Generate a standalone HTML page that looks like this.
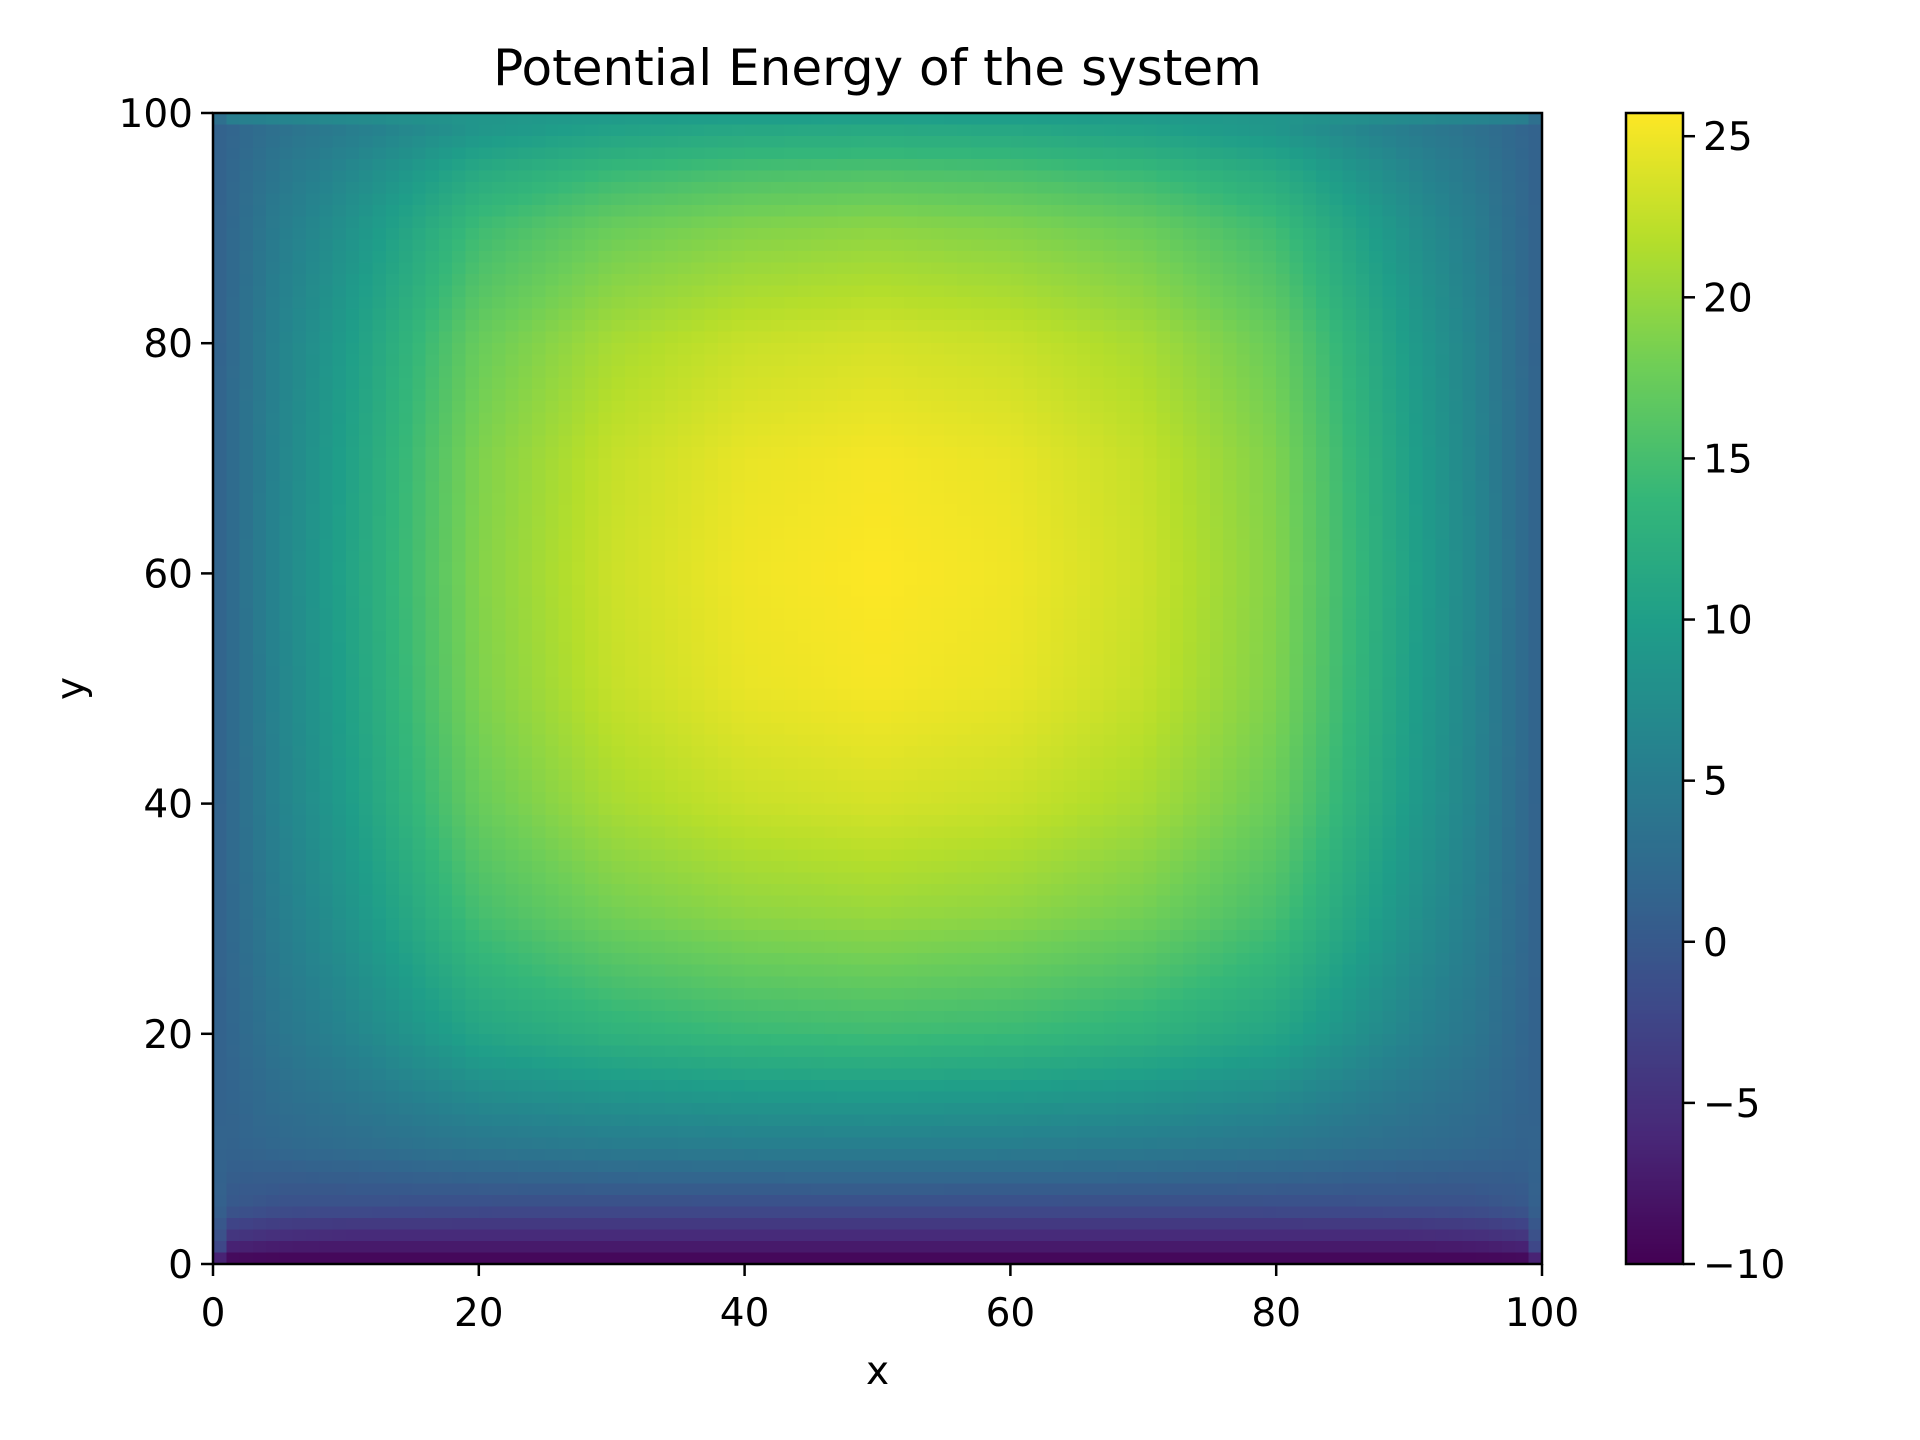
<!DOCTYPE html>
<html><head><meta charset="utf-8"><style>
html,body{margin:0;padding:0;background:#fff;width:1920px;height:1440px;overflow:hidden}
#wrap{position:relative;width:1920px;height:1440px}
canvas{position:absolute;image-rendering:pixelated}
svg{position:absolute;left:0;top:0}
text{font-family:"DejaVu Sans","Liberation Sans",sans-serif;fill:#000}
</style></head><body>
<div id="wrap">
<canvas id="hm" width="100" height="100" style="left:213px;top:113px;width:1329px;height:1151px"></canvas>
<canvas id="cb" width="1" height="256" style="left:1626px;top:113px;width:57px;height:1151px"></canvas>
<svg id="ax" width="1920" height="1440"></svg>
</div>
<script>
const xs=[0,1,5,10,20,30,40,50,60,70,80,90,95,99,100];
const ys=[100,99,95,90,80,70,60,50,40,30,20,10,5,2,1,0];
const r100=[1,9,9,9,9,9,9,9,9,9,9,9,9,9,1];
const r99=[1,1.4,3.2,4.8,8.3,9.9,10.7,11,10.7,9.9,8.3,4.8,3.2,1.4,1];
const r95=[1,1.6,4.2,6.5,11.6,13.9,15.1,15.5,15.1,13.9,11.6,6.5,4.2,1.6,1];
const r90=[1,1.7,5.1,8,14.5,17.5,18.9,19.5,18.9,17.5,14.5,8,5.1,1.7,1];
const r80=[1,1.9,6,9.6,17.4,21,22.8,23.5,22.8,21,17.4,9.6,6,1.9,1];
const r70=[1,2,6.3,10.2,18.7,22.6,24.6,25.3,24.6,22.6,18.7,10.2,6.3,2,1];
const r60=[1,2,6.5,10.5,19,23,25,25.7,25,23,19,10.5,6.5,2,1];
const r50=[1,2,6.3,10.2,18.7,22.6,24.6,25.3,24.6,22.6,18.7,10.2,6.3,2,1];
const r40=[1,1.9,6,9.6,17.4,21,22.8,23.5,22.8,21,17.4,9.6,6,1.9,1];
const r30=[1,1.8,5.2,8.2,14.9,17.9,19.4,20,19.4,17.9,14.9,8.2,5.2,1.8,1];
const r20=[1,1.5,4,6.1,10.9,13,14.1,14.5,14.1,13,10.9,6.1,4,1.5,1];
const r10=[1.5,1.2,1.9,2.5,3.9,4.6,4.9,5,4.9,4.6,3.9,2.5,1.9,1.2,1.5];
const r5=[2,0,-1,-1.2,-1.4,-1.5,-1.5,-1.5,-1.5,-1.5,-1.4,-1.2,-1,0,2];
const r2=[2,-5,-6,-6.5,-6.5,-6.5,-6.5,-6.5,-6.5,-6.5,-6.5,-6.5,-6,-5,2];
const r1=[2,-8,-8.5,-8.5,-8.5,-8.5,-8.5,-8.5,-8.5,-8.5,-8.5,-8.5,-8.5,-8,2];
const r0=[-10,-10,-10,-10,-10,-10,-10,-10,-10,-10,-10,-10,-10,-10,-10];
const rows=[r100,r99,r95,r90,r80,r70,r60,r50,r40,r30,r20,r10,r5,r2,r1,r0];
const axisTicks=[0,20,40,60,80,100];
const cbTicks=[-10,-5,0,5,10,15,20,25];
const vmin=-10,vmax=25.72;
const vir=['#440154','#482878','#3e4989','#31688e','#26828e','#1f9e89','#35b779','#6ece58','#b5de2b','#fde725'].map(h=>[parseInt(h.slice(1,3),16),parseInt(h.slice(3,5),16),parseInt(h.slice(5,7),16)]);
function cmap(v){let t=Math.max(0,Math.min(1,(v-vmin)/(vmax-vmin)))*(vir.length-1);let i=Math.min(vir.length-2,Math.floor(t)),f=t-i;return vir[i].map((c,k)=>Math.round(c+(vir[i+1][k]-c)*f));}
function seg(arr,v){for(let i=0;i<arr.length-1;i++){const a=arr[i],b=arr[i+1];if((v>=Math.min(a,b))&&(v<=Math.max(a,b)))return [i,(v-a)/(b-a)];}return [arr.length-2,1];}
function val(x,y){const [i,fx]=seg(xs,x);const [j,fy]=seg(ys,y);
const a=rows[j][i]+(rows[j][i+1]-rows[j][i])*fx;const b=rows[j+1][i]+(rows[j+1][i+1]-rows[j+1][i])*fx;return a+(b-a)*fy;}
const hc=document.getElementById('hm').getContext('2d');const img=hc.createImageData(100,100);
for(let r=0;r<100;r++)for(let c=0;c<100;c++){const col=cmap(val(c+0.5,99.5-r));const p=(r*100+c)*4;img.data[p]=col[0];img.data[p+1]=col[1];img.data[p+2]=col[2];img.data[p+3]=255;}
hc.putImageData(img,0,0);
const cc=document.getElementById('cb').getContext('2d');
for(let r=0;r<256;r++){const col=cmap(vmax-(r+0.5)/256*(vmax-vmin));cc.fillStyle=`rgb(${col})`;cc.fillRect(0,r,1,1);}
document.getElementById('cb').style.imageRendering='auto';
const L=213,R=1542,T=113,B=1264,CL=1626,CR=1683;
const sx=v=>L+(v/100)*(R-L), sy=v=>B-(v/100)*(B-T), sc=v=>B-(v-vmin)/(vmax-vmin)*(B-T);
const svg=document.getElementById('ax');const NS='http://www.w3.org/2000/svg';
function mk(tag,attrs,txt){const e=document.createElementNS(NS,tag);for(const k in attrs)e.setAttribute(k,attrs[k]);if(txt!==undefined)e.textContent=txt;svg.appendChild(e);return e;}
let e;
e=mk('rect',{x:L,y:T,width:R-L,height:B-T,fill:'none',stroke:'#000','stroke-width':2.5});


e=mk('rect',{x:CL,y:T,width:CR-CL,height:B-T,fill:'none',stroke:'#000','stroke-width':2.5});


axisTicks.forEach(v=>{
 e=mk('line',{x1:sx(v),x2:sx(v),y1:B,y2:B+12,stroke:'#000','stroke-width':2.5});
 
 
 e=mk('text',{x:sx(v),y:1326,'text-anchor':'middle','font-size':39},String(v));
 
 
 e=mk('line',{x1:L-12,x2:L,y1:sy(v),y2:sy(v),stroke:'#000','stroke-width':2.5});
 
 
 e=mk('text',{x:L-20,y:sy(v)+14,'text-anchor':'end','font-size':39},String(v));
 
 
});
cbTicks.forEach(v=>{
 e=mk('line',{x1:CR,x2:CR+12,y1:sc(v),y2:sc(v),stroke:'#000','stroke-width':2.5});
 
 
 e=mk('text',{x:CR+20,y:sc(v)+14,'font-size':39},String(v).replace('-','\u2212'));
 
 
});
e=mk('text',{x:(L+R)/2,y:85,'text-anchor':'middle','font-size':50},'Potential Energy of the system');


e=mk('text',{x:(L+R)/2,y:1384,'text-anchor':'middle','font-size':39},'x');


e=mk('text',{x:84,y:(T+B)/2,'text-anchor':'middle','font-size':39,transform:`rotate(-90 84 ${(T+B)/2})`},'y');


</script>
</body></html>
